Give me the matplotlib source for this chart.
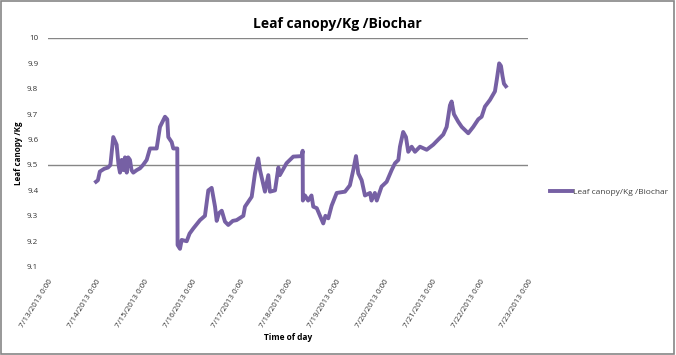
import numpy as np
import pandas as pd
import matplotlib
matplotlib.use("Agg")
import matplotlib.pyplot as plt
import matplotlib.dates as mdates
import matplotlib.patches as mpatches

# days since 7/13/2013 0:00 and readings
day_offsets = [1.0, 1.04, 1.08, 1.17, 1.25, 1.30, 1.36, 1.43, 1.47, 1.5, 1.535, 1.57,
               1.604, 1.64, 1.67, 1.708, 1.74, 1.777, 1.85, 1.917, 1.98, 2.056,
               2.125, 2.264, 2.333, 2.4375, 2.485, 2.506, 2.577, 2.61, 2.694, 2.70,
               2.75, 2.785, 2.89, 2.95, 3.027, 3.167, 3.27, 3.34, 3.41, 3.48, 3.515,
               3.56, 3.62, 3.6875, 3.756, 3.85, 3.93, 4.07, 4.104, 4.244, 4.3125,
               4.38, 4.417, 4.52, 4.59, 4.625, 4.73, 4.80, 4.83, 4.97, 5.11, 5.285,
               5.306, 5.31, 5.354, 5.42, 5.49, 5.527, 5.6, 5.667, 5.735, 5.78, 5.84,
               5.91, 6.015, 6.1875, 6.29, 6.36, 6.417, 6.465, 6.535, 6.604, 6.71,
               6.74, 6.81, 6.85, 6.95, 7.056, 7.16, 7.23, 7.30, 7.333, 7.40, 7.458,
               7.506, 7.577, 7.646, 7.75, 7.89, 8.027, 8.13, 8.235, 8.306, 8.375,
               8.41, 8.458, 8.548, 8.62, 8.756, 8.86, 8.965, 9.035, 9.104, 9.208,
               9.3125, 9.35, 9.40, 9.4375, 9.47, 9.5, 9.54]
values = [9.434, 9.44, 9.474, 9.485, 9.49, 9.50, 9.61, 9.58, 9.50, 9.47, 9.52, 9.48,
          9.53, 9.47, 9.53, 9.52, 9.48, 9.47, 9.48, 9.487, 9.50, 9.52,
          9.565, 9.565, 9.65, 9.69, 9.68, 9.61, 9.59, 9.565, 9.565, 9.185,
          9.17, 9.205, 9.20, 9.23, 9.25, 9.283, 9.30, 9.40, 9.41, 9.336, 9.28,
          9.31, 9.32, 9.277, 9.264, 9.28, 9.283, 9.30, 9.336, 9.375, 9.467,
          9.526, 9.48, 9.395, 9.46, 9.395, 9.40, 9.49, 9.46, 9.507, 9.533, 9.535,
          9.556, 9.36, 9.38, 9.36, 9.38, 9.336, 9.33, 9.30, 9.27, 9.30, 9.29,
          9.34, 9.39, 9.395, 9.42, 9.48, 9.535, 9.467, 9.44, 9.38, 9.39,
          9.36, 9.39, 9.36, 9.415, 9.434, 9.48, 9.507, 9.52, 9.572, 9.63, 9.61,
          9.552, 9.572, 9.552, 9.572, 9.56, 9.58, 9.60, 9.62, 9.65, 9.735,
          9.75, 9.70, 9.67, 9.65, 9.625, 9.65, 9.68, 9.69, 9.73, 9.756,
          9.79, 9.835, 9.90, 9.89, 9.85, 9.82, 9.81]
y_ticks = [9.1, 9.2, 9.3, 9.4, 9.5, 9.6, 9.7, 9.8, 9.9, 10.0]
y_tick_labels = ["9.1", "9.2", "9.3", "9.4", "9.5", "9.6", "9.7", "9.8", "9.9", "10"]
series_name = "Leaf canopy/Kg /Biochar"

start = pd.Timestamp("2013-07-13")
times = start + pd.to_timedelta(day_offsets, unit="D")

plt.rcParams['font.family'] = ['Open Sans', 'DejaVu Sans']

fig = plt.figure(figsize=(6.76, 3.55), dpi=100)
ax = fig.add_axes([0.071, 0.249, 0.71, 0.644])

for g in [9.5, 10.0]:
    ax.axhline(g, color="#868686", lw=1.0, zorder=1)

ax.plot(times, values, color="#7660A4", lw=2.8, solid_joinstyle="round",
        label=series_name, zorder=3)

ax.set_ylim(9.1, 10.0)
ax.set_yticks(y_ticks)
ax.set_yticklabels(y_tick_labels)
ax.set_xlim(start, start + pd.Timedelta(days=10))
ax.xaxis.set_major_locator(mdates.DayLocator())
ax.xaxis.set_major_formatter(plt.FuncFormatter(
    lambda v, p: "{d.month}/{d.day}/{d.year} 0:00".format(d=mdates.num2date(v))))

for s in ax.spines.values():
    s.set_visible(False)
ax.tick_params(axis="both", length=0, labelsize=5.8, labelcolor="#333333")
ax.tick_params(axis="y", pad=7)
ax.tick_params(axis="x", pad=8)
for lbl in ax.get_xticklabels():
    lbl.set_rotation(58)
    lbl.set_ha("right")
    lbl.set_va("top")
    lbl.set_rotation_mode("anchor")

fig.text(0.499, 0.932, "Leaf canopy/Kg /Biochar", ha="center", va="center",
         fontsize=10, fontweight="bold")
fig.text(0.028, 0.569, "Leaf canopy /Kg", rotation=90, ha="center", va="center",
         fontsize=5.8, fontweight="bold")
fig.text(0.426, 0.05, "Time of day", ha="center", va="center",
         fontsize=6, fontweight="bold")

ax.legend(loc="center left", bbox_to_anchor=(1.03, 0.326), frameon=False,
          fontsize=6, handlelength=2.7, handletextpad=0.05, labelcolor="#404040")

fig.patches.append(mpatches.Rectangle((0.002, 0.004), 0.995, 0.992,
                                      transform=fig.transFigure, fill=False,
                                      edgecolor="#868686", lw=1.2))

fig.savefig("out.png", dpi=100)
